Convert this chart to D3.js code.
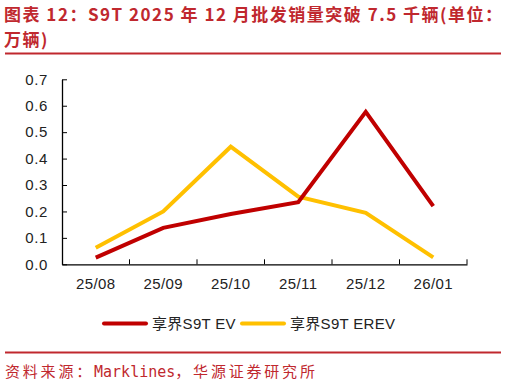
<!DOCTYPE html>
<html>
<head>
<meta charset="utf-8">
<script src="https://cdn.jsdelivr.net/npm/d3@7"></script>
<style>
  body { margin: 0; background: #fff; }
  svg { display: block; }
</style>
</head>
<body>
<svg id="chart"></svg>
<script>
const months = ["25/08", "25/09", "25/10", "25/11", "25/12", "26/01"];
const evValues = [0.025, 0.138, 0.19, 0.235, 0.577, 0.22];
const erevValues = [0.063, 0.2, 0.445, 0.256, 0.195, 0.026];
const yTicks = [0, 0.1, 0.2, 0.3, 0.4, 0.5, 0.6, 0.7];
const seriesNames = ["享界S9T EV", "享界S9T EREV"];

const width = 506,
  height = 386,
  red = "#c00000",
  yellow = "#ffc000",
  titleColor = "#c0282e",
  labelFont = "Arial, 'Liberation Sans', 'Noto Sans CJK SC', sans-serif";

const svg = d3.select("#chart").attr("width", width).attr("height", height);

// title
const title = svg.append("g")
  .style("font-family", "'Noto Sans CJK SC', sans-serif")
  .style("font-weight", "bold")
  .style("font-size", "17px")
  .style("letter-spacing", "1.5px")
  .attr("fill", titleColor);
title.append("text").attr("x", 4).attr("y", 21)
  .text("图表 12：S9T 2025 年 12 月批发销量突破 7.5 千辆(单位：");
title.append("text").attr("x", 4).attr("y", 46).text("万辆)");

svg.append("line")
  .attr("x1", 5).attr("x2", 501).attr("y1", 53.5).attr("y2", 53.5)
  .attr("stroke", titleColor).attr("stroke-width", 2);

const x = d3.scaleBand().domain(months).range([62, 467]);
const y = d3.scaleLinear().domain([0, 0.7]).range([264.3, 79.3]);

const xAxis = d3.axisBottom(x).tickSize(0).tickPadding(14);
const gx = svg.append("g")
  .attr("transform", "translate(0," + y(0) + ")")
  .call(xAxis);
gx.select(".domain").attr("stroke", "#000").attr("stroke-width", 1.3);
// tick marks at band boundaries
gx.selectAll(".bound")
  .data(months)
  .enter()
  .append("line")
  .attr("x1", d => x(d) + x.bandwidth())
  .attr("x2", d => x(d) + x.bandwidth())
  .attr("y1", 0).attr("y2", -5)
  .attr("stroke", "#000").attr("stroke-width", 1);
gx.selectAll("text")
  .style("font-family", labelFont)
  .style("font-size", "15px")
  .style("letter-spacing", "0.4px")
  .attr("fill", "#222");

const yAxis = d3.axisLeft(y).tickValues(yTicks).tickFormat(d3.format(".1f"))
  .tickSize(5).tickSizeOuter(0).tickPadding(9);
const gy = svg.append("g")
  .attr("transform", "translate(62,0)")
  .call(yAxis);
gy.select(".domain").attr("stroke", "#000").attr("stroke-width", 1.3);
gy.selectAll(".tick line").attr("x2", 5).attr("stroke", "#000");
gy.selectAll("text")
  .style("font-family", labelFont)
  .style("font-size", "15px")
  .style("letter-spacing", "0.6px")
  .attr("fill", "#222");

const line = d3.line()
  .x((d, i) => x(months[i]) + x.bandwidth() / 2)
  .y(d => y(d));

svg.append("path")
  .datum(erevValues)
  .attr("d", line)
  .attr("fill", "none")
  .attr("stroke", yellow)
  .attr("stroke-width", 4);

svg.append("path")
  .datum(evValues)
  .attr("d", line)
  .attr("fill", "none")
  .attr("stroke", red)
  .attr("stroke-width", 4);

// legend
const legend = svg.append("g").attr("transform", "translate(0,323.5)");
const legendItems = [
  { name: seriesNames[0], color: red, x: 104 },
  { name: seriesNames[1], color: yellow, x: 242 }
];
legendItems.forEach(item => {
  legend.append("line")
    .attr("x1", item.x).attr("x2", item.x + 42)
    .attr("y1", 0).attr("y2", 0)
    .attr("stroke", item.color).attr("stroke-width", 4)
    .attr("stroke-linecap", "round");
  legend.append("text")
    .attr("x", item.x + 48).attr("y", 5.5)
    .style("font-family", labelFont)
    .style("font-size", "15px")
    .style("letter-spacing", "0.3px")
    .attr("fill", "#222")
    .text(item.name);
});

svg.append("line")
  .attr("x1", 5).attr("x2", 501).attr("y1", 352.5).attr("y2", 352.5)
  .attr("stroke", titleColor).attr("stroke-width", 2);

const source = svg.append("text")
  .attr("x", 5).attr("y", 377)
  .style("font-size", "15px")
  .attr("fill", titleColor);
source.append("tspan")
  .style("font-family", "'Noto Sans CJK SC', sans-serif")
  .style("letter-spacing", "2.8px")
  .text("资料来源：");
source.append("tspan")
  .style("font-family", "'DejaVu Sans Mono', monospace")
  .style("letter-spacing", "0px")
  .text("Marklines");
source.append("tspan")
  .style("font-family", "'Noto Sans CJK SC', sans-serif")
  .style("letter-spacing", "2.8px")
  .text("，华源证券研究所");
</script>
</body>
</html>
